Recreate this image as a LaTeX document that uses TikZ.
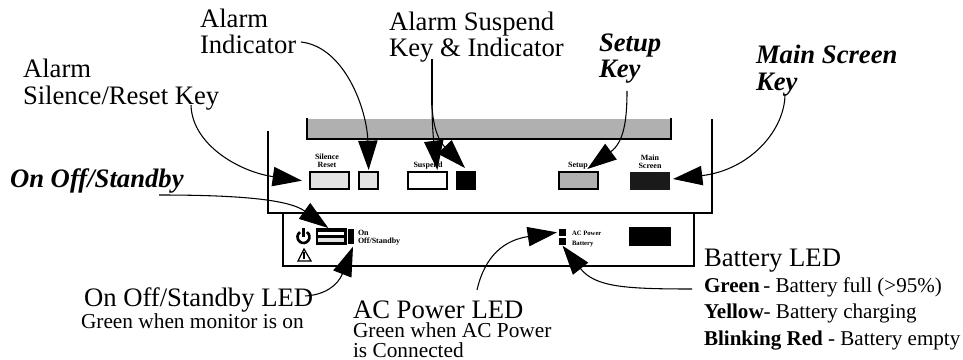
\documentclass[tikz,border=0pt]{standalone}
\usepackage{fontspec}
\setmainfont{Liberation Serif}
\usetikzlibrary{arrows.meta}
\tikzset{
  big/.style={inner sep=0pt,outer sep=0pt,anchor=base west,align=left,font=\fontsize{20}{20}\selectfont},
  bigbi/.style={big,font=\fontsize{20}{20}\selectfont\bfseries\itshape},
  mid/.style={inner sep=0pt,outer sep=0pt,anchor=base west,align=left,font=\fontsize{16}{15}\selectfont},
  midb/.style={mid,font=\fontsize{15.8}{15}\selectfont},
  tiny/.style={inner sep=0pt,outer sep=0pt,anchor=base,align=center,font=\fontsize{6}{5.8}\selectfont\bfseries},
  tinyl/.style={tiny,anchor=base west,align=left},
  tinys/.style={tinyl,font=\fontsize{5}{5}\selectfont\bfseries},
  wall/.style={line width=1.5pt,line cap=rect},
  keybox/.style={draw,line width=1.3pt,inner sep=0pt,outer sep=0pt,anchor=north west},
  solid box/.style={fill=black,inner sep=0pt,outer sep=0pt,anchor=north west},
  callout/.style={line width=0.8pt,-{Triangle[length=22pt,width=14.5pt]}},
  stem/.style={line width=1.5pt},
}
\begin{document}
\begin{tikzpicture}[x=0.75pt,y=-0.75pt]
\useasboundingbox (0,0) rectangle (963,360);
% housing
\definecolor{lightkey}{RGB}{226,226,226}
\definecolor{midkey}{RGB}{176,176,176}
\definecolor{darkkey}{RGB}{26,26,26}
\fill[midkey] (307,119) rectangle (671,139);
\draw[wall] (307,119) -- (307,139) -- (671,139) -- (671,119);
\draw[wall] (268,132) -- (268,213) -- (712,213) -- (712,120);
\draw[wall] (283,213) -- (283,266) -- (694,266) -- (694,213);
% keys
\node[keybox,fill=lightkey,minimum width=29pt,minimum height=13pt] (silence) at (310,172) {};
\node[keybox,fill=lightkey,minimum width=14.5pt,minimum height=13pt] (indicator) at (359,172) {};
\node[keybox,fill=white,minimum width=29pt,minimum height=13pt] (suspend) at (408,172) {};
\node[solid box,minimum width=15pt,minimum height=14.5pt] (suspled) at (456,171) {};
\node[keybox,fill=midkey,minimum width=29pt,minimum height=13pt] (setup) at (559,172) {};
\node[solid box,fill=darkkey,minimum width=30pt,minimum height=13.5pt] (mainkey) at (630,172) {};
\node[tiny] (tsil) at (327,167.5) {Silence\\Reset};
\node[tiny] (tsus) at (428,167) {Suspend};
\node[tiny] (tset) at (578,167) {Setup};
\node[tiny] (tmain) at (650,168) {Main\\Screen};
% lower panel
\node[solid box,minimum width=23pt,minimum height=13pt] (switch) at (316,228) {};
\fill[white] (318,232) rectangle (344,235);
\fill[lightkey] (318,238) rectangle (344,241.5);
\node[solid box,minimum width=4.5pt,minimum height=11pt] (onled) at (348,229) {};
\node[tinyl] (ton) at (358,243) {On\\Off/Standby};
\node[solid box,minimum width=5.2pt,minimum height=5pt] (acled) at (559,229) {};
\node[solid box,minimum width=5.2pt,minimum height=5pt] (batled) at (559,238) {};
\node[tinys] (tac) at (572,235) {AC Power};
\node[tinys] (tbat) at (572,245) {Battery};
\node[solid box,minimum width=31.5pt,minimum height=14pt] (blackpad) at (629,227) {};
% power symbol and warning sign
\draw[line width=2pt] (306.9,232.1) arc[start angle=-55,delta angle=290,radius=6];
\draw[line width=2pt] (303.5,228) -- (303.5,237);
\draw[line width=0.9pt,line join=miter] (304,249) -- (311,261) -- (298,261) -- cycle;
\draw[line width=1.5pt] (304,252) -- (304,259);
% text
\node[big] (talarm) at (200,54) {Alarm\\Indicator};
\node[big] (tsusp) at (389,57) {Alarm Suspend\\Key \& Indicator};
\node[big] (tsilence) at (23,104) {Alarm\\Silence/Reset Key};
\node[bigbi] (tsetup) at (599,78) {Setup\\Key};
\node[bigbi] (tmainscreen) at (756,90) {Main Screen\\Key};
\node[bigbi] (tonoff) at (10,187) {On Off/Standby};
\node[big] (tonled) at (84,306) {On Off/Standby LED};
\node[mid] (tongreen) at (81,328) {Green when monitor is on};
\node[big] (tacled) at (353,318) {AC Power LED};
\node[mid] (tacgreen) at (353,357) {Green when AC Power\\is Connected};
\node[big] (tbatled) at (704,266) {Battery LED};
\node[midb] (tb1) at (704,292) {\textbf{Green}\,- Battery full (>95\%)};
\node[midb] (tb2) at (704,318) {\textbf{Yellow}- Battery charging};
\node[midb] (tb3) at (704,345) {\textbf{Blinking Red} - Battery empty};
% free ends
\coordinate (s1) at (301,42);
\coordinate (s2) at (191,105);
\coordinate (s3) at (432,59);
\coordinate (s3b) at (432,105);
\coordinate (s4) at (627,91);
\coordinate (s5) at (785,94);
\coordinate (s6) at (159,195);
\coordinate (s7) at (305,296);
\coordinate (s8) at (477,290);
\coordinate (s9) at (692,289);
% connectors
\draw[callout] (s1) .. controls (345,47) and (367,110) .. ([shift={(0,-2)}]indicator.north);
\draw[callout] (s2) .. controls (192,145) and (240,172) .. ([shift={(-8,0)}]silence.west);
\draw[stem] (s3) -- (s3b);
\draw[callout] (s3b) .. controls (432,120) and (433,135) .. ([shift={(10,-2)}]suspend.north);
\draw[callout] (s3b) .. controls (433,130) and (440,142) .. ([shift={(-1,-3)}]suspled.north);
\draw[callout] (s4) .. controls (627,120) and (624,142) .. ([shift={(9,-3)}]setup.north);
\draw[callout] (s5) .. controls (785,130) and (750,170) .. ([shift={(3,-2)}]mainkey.east);
\draw[callout] (s6) .. controls (235,195) and (288,199) .. ([shift={(-3,0)}]switch.north);
\draw[callout] (s7) .. controls (325,295) and (338,285) .. ([shift={(2,3)}]onled.south);
\draw[callout] (s8) .. controls (485,255) and (505,240) .. ([shift={(-2,0)}]acled.west);
\draw[callout] (s9) .. controls (625,289) and (595,287) .. ([shift={(0,1)}]batled.south);
\end{tikzpicture}
\end{document}
